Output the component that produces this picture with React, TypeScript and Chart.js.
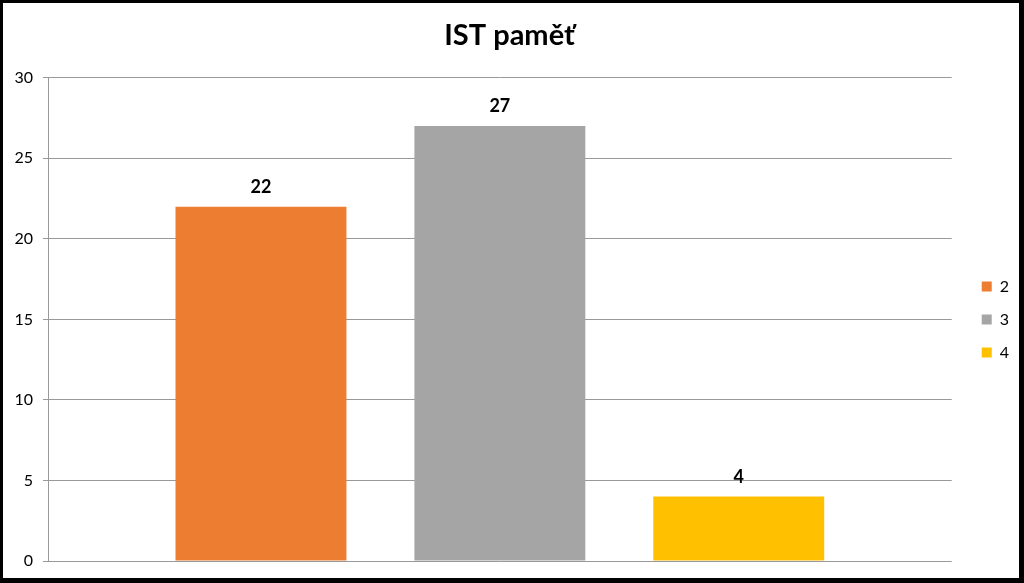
import React, { useEffect, useRef } from "react";
import { Chart, registerables } from "chart.js";

Chart.register(...registerables);

const chartTitle = "IST paměť";
const categories = ["IST paměť"];
const seriesNames = ["2", "3", "4"];
const seriesValues = [22, 27, 4];
const seriesColors = ["#ED7D31", "#A5A5A5", "#FFC000"];
const yTicks = { min: 0, max: 30, step: 5 };

const FONT = "Lato, 'Open Sans', 'Noto Sans', sans-serif";

const valueLabels = {
  id: "valueLabels",
  afterDatasetsDraw(chart: any) {
    const ctx = chart.ctx;
    ctx.save();
    ctx.font = `bold 18px ${FONT}`;
    ctx.fillStyle = "#000";
    ctx.textAlign = "center";
    ctx.textBaseline = "alphabetic";
    chart.data.datasets.forEach((ds: any, i: number) => {
      const meta = chart.getDatasetMeta(i);
      meta.data.forEach((el: any, j: number) => {
        ctx.fillText(String(ds.data[j]), el.x, el.y - 14);
      });
    });
    ctx.restore();
  },
};

const frame = {
  id: "frame",
  afterDraw(chart: any) {
    const ctx = chart.ctx;
    const w = chart.width;
    const h = chart.height;
    ctx.save();
    ctx.fillStyle = "#000";
    ctx.fillRect(0, 0, w, 3);
    ctx.fillRect(0, 0, 3, h);
    ctx.fillRect(w - 5, 0, 5, h);
    ctx.fillRect(0, h - 5, w, 5);
    ctx.restore();
  },
};

export default function App() {
  const ref = useRef<HTMLCanvasElement | null>(null);

  useEffect(() => {
    if (!ref.current) return;
    const chart = new Chart(ref.current, {
      type: "bar",
      data: {
        labels: categories,
        datasets: seriesNames.map((name, i) => ({
          label: name,
          data: [seriesValues[i]],
          backgroundColor: seriesColors[i],
          borderWidth: 0,
          categoryPercentage: 0.793,
          barPercentage: 0.7155,
        })),
      },
      options: {
        responsive: false,
        animation: false,
        devicePixelRatio: 1,
        layout: { padding: { top: 0, left: 0, right: 5, bottom: 22 } },
        plugins: {
          title: {
            display: true,
            text: chartTitle,
            color: "#000",
            font: { family: FONT, size: 29, weight: "bold", lineHeight: 1.2 },
            padding: { top: 18, bottom: 25 },
          },
          legend: {
            position: "right",
            align: "center",
            title: {
              display: true,
              text: " ",
              font: { family: FONT, size: 10, lineHeight: 1 },
              padding: { top: 34, bottom: 34 },
            },
            labels: {
              boxWidth: 10,
              boxHeight: 10,
              padding: 17,
              color: "#000",
              font: { family: FONT, size: 16 },
            },
          },
          tooltip: { enabled: false },
        },
        scales: {
          x: { display: false },
          y: {
            min: yTicks.min,
            max: yTicks.max,
            ticks: {
              stepSize: yTicks.step,
              padding: 10,
              color: "#000",
              font: { family: FONT, size: 16 },
            },
            grid: { color: "#999", tickLength: 5, drawTicks: true },
            border: { color: "#999" },
            afterFit: (s: any) => {
              s.width = 48;
            },
          },
          y2: {
            type: "linear",
            position: "right",
            display: true,
            grid: { display: false },
            ticks: { display: false },
            border: { display: false },
            afterFit: (s: any) => {
              s.width = 13;
            },
          },
        },
      } as any,
      plugins: [valueLabels, frame],
    });
    return () => chart.destroy();
  }, []);

  return (
    <div style={{ position: "fixed", left: 0, top: 0, width: 1024, height: 583, background: "#fff" }}>
      <canvas ref={ref} width={1024} height={583} style={{ display: "block" }} />
    </div>
  );
}
